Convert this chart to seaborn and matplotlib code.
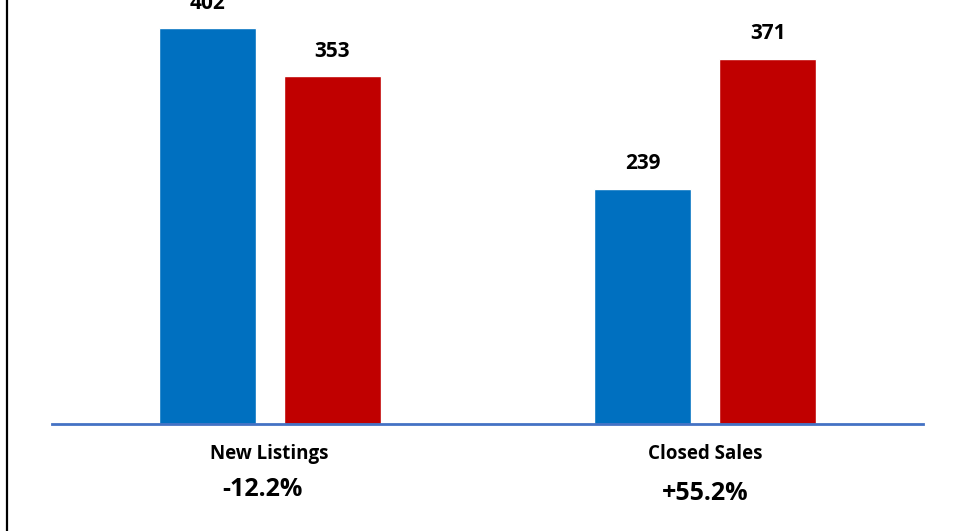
import matplotlib
matplotlib.use("Agg")
import matplotlib.pyplot as plt
from matplotlib.lines import Line2D
import seaborn as sns
import pandas as pd

categories = ["New Listings", "Closed Sales"]
periods = ["Prior", "Current"]
prior_values = [402, 239]
current_values = [353, 371]
change_labels = ["-12.2%", "+55.2%"]
colors = ["#0070C0", "#C00000"]

rows = []
for c, p, q in zip(categories, prior_values, current_values):
    rows.append({"category": c, "period": periods[0], "value": p})
    rows.append({"category": c, "period": periods[1], "value": q})
df = pd.DataFrame(rows)

sns.set_theme(style="white")
plt.rcParams["font.family"] = ["Open Sans", "DejaVu Sans"]

W, H = 962, 531
fig = plt.figure(figsize=(W / 100, H / 100), dpi=100)
ax = fig.add_axes([52 / W, (H - 424) / H, (923 - 52) / W, 424 / H])

sns.barplot(data=df, x="category", y="value", hue="period", order=categories,
            hue_order=periods, palette=colors, width=0.574, gap=0.222,
            saturation=1, legend=False, ax=ax, errorbar=None)

ax.set_xlim(-0.5, 1.5)
ax.set_ylim(0, 424 / 0.985)
ax.set_xlabel("")
ax.set_ylabel("")
ax.set_xticks([])
ax.set_yticks([])
for s in ["top", "left", "right"]:
    ax.spines[s].set_visible(False)
ax.spines["bottom"].set_color("#4472C4")
ax.spines["bottom"].set_linewidth(2)

for cont in ax.containers:
    for bar in cont:
        h = bar.get_height()
        ax.annotate(f"{int(round(h))}", xy=(bar.get_x() + bar.get_width() / 2, h),
                    xytext=(0, 25), textcoords="offset pixels", ha="center",
                    va="center", fontsize=15, fontweight="bold", color="black",
                    annotation_clip=False)

xt = ax.get_xaxis_transform()
pct_offsets = [(-7, -65), (0, -69)]
for i, (c, lab) in enumerate(zip(categories, change_labels)):
    ax.annotate(c, xy=(i, 0), xycoords=xt, xytext=(0, -30),
                textcoords="offset pixels", ha="center", va="center",
                fontsize=13.5, fontweight="bold", color="black",
                annotation_clip=False)
    dx, dy = pct_offsets[i]
    ax.annotate(lab, xy=(i, 0), xycoords=xt, xytext=(dx, dy),
                textcoords="offset pixels", ha="center", va="center",
                fontsize=18, fontweight="bold", color="black",
                annotation_clip=False)

fig.add_artist(Line2D([7 / W, 7 / W], [0, 1], transform=fig.transFigure,
                      color="black", lw=1.6))

fig.savefig("out.png", dpi=100, facecolor="white")
